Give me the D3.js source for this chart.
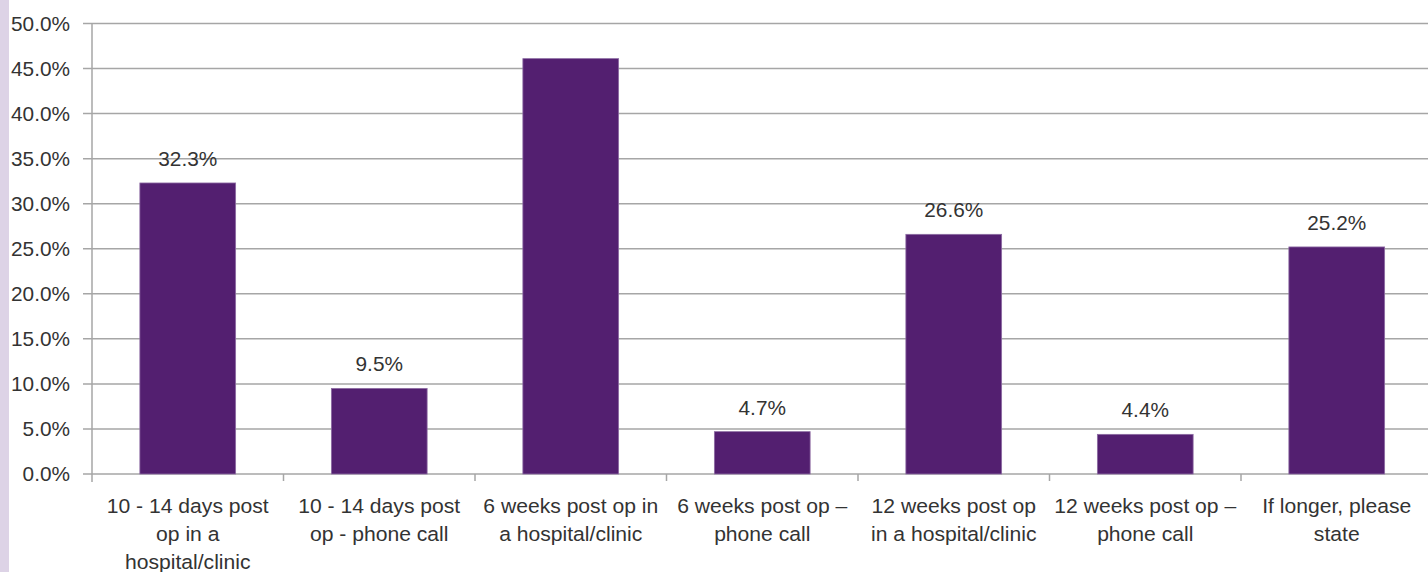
<!DOCTYPE html>
<html><head><meta charset="utf-8">
<script src="https://cdn.jsdelivr.net/npm/d3@7"></script>
<style>
html,body{margin:0;padding:0;background:#fff;}
svg{display:block;}
text{font-family:"Liberation Sans",Arial,sans-serif;fill:#333;}
</style></head>
<body><svg id="c" width="1428" height="572"></svg>
<script>
const categories = [
  "10 - 14 days post op in a hospital/clinic",
  "10 - 14 days post op - phone call",
  "6 weeks post op in a hospital/clinic",
  "6 weeks post op – phone call",
  "12 weeks post op in a hospital/clinic",
  "12 weeks post op – phone call",
  "If longer, please state"
];
const categoryLines = [
  ["10 - 14 days post", "op in a", "hospital/clinic"],
  ["10 - 14 days post", "op - phone call"],
  ["6 weeks post op in", "a hospital/clinic"],
  ["6 weeks post op –", "phone call"],
  ["12 weeks post op", "in a hospital/clinic"],
  ["12 weeks post op –", "phone call"],
  ["If longer, please", "state"]
];
const values = [32.3, 9.5, 46.1, 4.7, 26.6, 4.4, 25.2];
const showLabel = [true, true, false, true, true, true, true];
const yTicks = [0, 5, 10, 15, 20, 25, 30, 35, 40, 45, 50];

const svg = d3.select("#c");
svg.append("rect").attr("x",0).attr("y",0).attr("width",9).attr("height",572).attr("fill","#ddd3e6");

// font size fitted so a sample string reaches a width measured on the reference
function fitSize(sample, targetW) {
  const t = svg.append("text").style("font-size", "20px").text(sample);
  const w = t.node().getComputedTextLength();
  t.remove();
  return 20 * targetW / w;
}
const tickFs = fitSize("50.0%", 59);
const labelFs = fitSize("32.3%", 59);
const catFs = fitSize("10 - 14 days post", 162);

const mLeft = 92, mTop = 23.5, mBottom = 474, mRight = 1432.5;
const x = d3.scaleBand().domain(categories).range([mLeft, mRight]).paddingInner(0).paddingOuter(0);
const y = d3.scaleLinear().domain([0, 50]).range([mBottom, mTop]);

// gridlines
svg.append("g").selectAll("line").data(yTicks).join("line")
  .attr("x1", mLeft - 9).attr("x2", mRight)
  .attr("y1", d => y(d)).attr("y2", d => y(d))
  .attr("stroke", "#a6a6a6").attr("stroke-width", 1.5);

// y axis
const yAxis = d3.axisLeft(y).tickValues(yTicks).tickSize(0).tickPadding(22)
  .tickFormat(d => d.toFixed(1) + "%");
const gy = svg.append("g").attr("transform", `translate(${mLeft},0)`).call(yAxis);
gy.attr("font-family", null).attr("font-size", null);
gy.select(".domain").remove();
gy.selectAll("text").style("font-size", tickFs + "px").attr("fill", "#333");
svg.append("line").attr("x1", mLeft).attr("x2", mLeft).attr("y1", mTop).attr("y2", mBottom + 8)
  .attr("stroke", "#a6a6a6").attr("stroke-width", 1.5);

// x ticks at band boundaries
const bounds = categories.map(c => x(c)).concat([mRight]);
svg.append("g").selectAll("line").data(bounds.slice(1)).join("line")
  .attr("x1", d => d).attr("x2", d => d).attr("y1", mBottom).attr("y2", mBottom + 7)
  .attr("stroke", "#a6a6a6").attr("stroke-width", 1.5);

// bars
const bw = x.bandwidth() * 0.5;
svg.append("g").selectAll("rect").data(values).join("rect")
  .attr("x", (d, i) => x(categories[i]) + (x.bandwidth() - bw) / 2)
  .attr("y", d => y(d))
  .attr("width", bw)
  .attr("height", d => mBottom - y(d))
  .attr("fill", "#531f70").attr("stroke", "#8d6ca3").attr("stroke-width", 0.8);

// data labels
svg.append("g").selectAll("text").data(values.map((v, i) => ({v, i})).filter(d => showLabel[d.i])).join("text")
  .attr("x", d => x(categories[d.i]) + x.bandwidth() / 2)
  .attr("y", d => y(d.v) - 17)
  .attr("text-anchor", "middle").style("font-size", labelFs + "px")
  .text(d => d.v.toFixed(1) + "%");

// category labels
const gl = svg.append("g");
categories.forEach((c, i) => {
  const t = gl.append("text").attr("text-anchor", "middle").style("font-size", catFs + "px");
  categoryLines[i].forEach((ln, j) => {
    t.append("tspan").attr("x", x(c) + x.bandwidth() / 2).attr("y", mBottom + 39 + j * 28).text(ln);
  });
});
</script></body></html>
